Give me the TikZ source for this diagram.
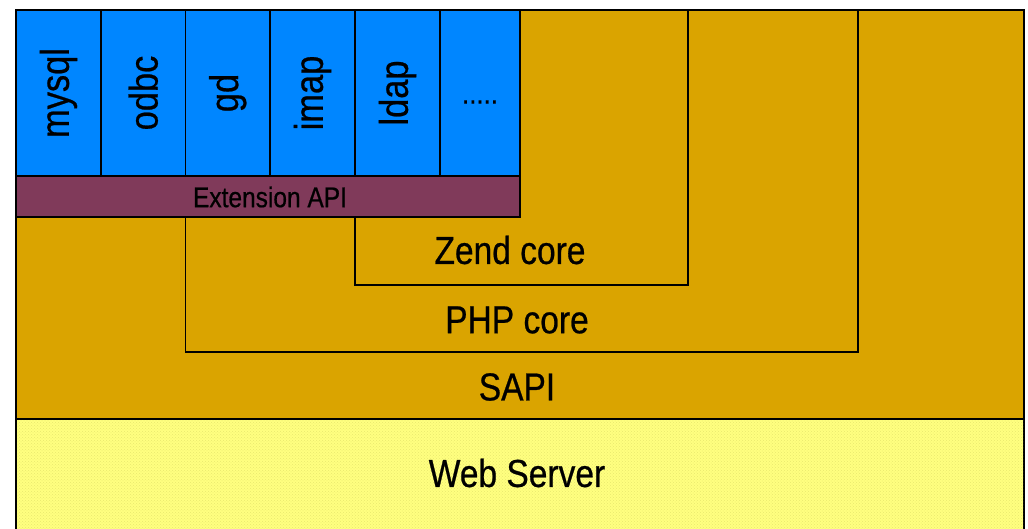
\documentclass[tikz,border=0pt]{standalone}
\usepackage{fontspec}
\setmainfont{Liberation Sans}[FakeStretch=0.86,FakeBold=0.6]
\usetikzlibrary{patterns}
\definecolor{sapigold}{RGB}{218,164,0}
\definecolor{extblue}{RGB}{0,134,255}
\definecolor{apipurple}{RGB}{128,58,90}
\definecolor{webyellow}{RGB}{255,255,128}
\definecolor{dotyellow}{RGB}{232,232,110}

\begin{document}
\begin{tikzpicture}[x=1pt,y=-1pt,
    layer/.style={draw,line width=1.5pt,fill=sapigold},
    modbox/.style={draw,line width=1.5pt,fill=extblue},
    bigtext/.style={font=\fontsize{39}{41}\selectfont},
    modtext/.style={rotate=90,font=\fontsize{40}{42}\selectfont},
    apitext/.style={font=\fontsize{28.5}{30}\selectfont}]
    \useasboundingbox (0,0) rectangle (1028,529);
    \draw[layer] (16,10) rectangle (1024,419);
    \draw[layer] (185.5,10) rectangle (858,352);
    \draw[layer] (355,10) rectangle (688,285);
    \foreach \name/\xa/\xb in {mysql/16/101,odbc/101/185.5,gd/185.5/270,imap/270/355,ldap/355/440} {
        \draw[modbox] (\xa,10) rectangle (\xb,176);
        \node[modtext] (mod-\name) at ({(\xa+\xb)/2},93) {\name};
    }
    \draw[modbox] (440,10) rectangle (520,176);
    \node[font=\fontsize{30}{32}\selectfont] (mod-more) at (480,102) {.....};
    \draw[line width=1.5pt,fill=apipurple] (16,176) rectangle (520,217);
    \node[apitext] (extapi) at (270,197) {Extension API};
    \node[bigtext] (zend) at (510,250) {Zend core};
    \node[bigtext] (php) at (517,320) {PHP core};
    \node[bigtext] (sapi) at (517,387) {SAPI};
    \draw[line width=1.5pt,fill=webyellow] (16,419) rectangle (1024,535);
    \fill[pattern=crosshatch dots,pattern color=dotyellow] (17,420) rectangle (1023,529);
    \node[bigtext] (web) at (517,473) {Web Server};
    \draw[line width=2.5pt] (15,10) -- (1025,10);
\end{tikzpicture}
\end{document}
